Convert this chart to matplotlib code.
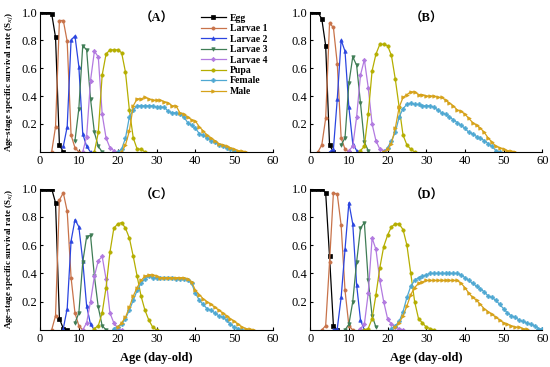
import matplotlib
matplotlib.use("Agg")
import matplotlib.pyplot as plt
import numpy as np

stages = ["Egg", "Larvae 1", "Larvae 2", "Larvae 3", "Larvae 4", "Pupa", "Female", "Male"]
panel_titles = ["（A）", "（B）", "（C）", "（D）"]
x_ticks = [0, 10, 20, 30, 40, 50, 60]
y_ticks = [0.2, 0.4, 0.6, 0.8, 1.0]

# ---- Panel A: first age of each stage curve, then daily values ----
a_start = [0, 3, 6, 9, 11, 14, 20, 21]
a_egg = [1.0, 1.0, 1.0, 0.99, 0.82, 0.05, 0.0]
a_l1 = [0.0, 0.18, 0.94, 0.94, 0.79, 0.12, 0.03, 0.0]
a_l2 = [0.04, 0.18, 0.80, 0.83, 0.61, 0.13, 0.04, 0.0]
a_l3 = [0.08, 0.31, 0.76, 0.73, 0.38, 0.14, 0.04, 0.0]
a_l4 = [0.0, 0.11, 0.51, 0.72, 0.68, 0.27, 0.10, 0.03, 0.01]
a_pupa = [0.0, 0.14, 0.55, 0.70, 0.73, 0.73, 0.73, 0.71, 0.57, 0.30, 0.10, 0.02, 0.02, 0.0]
a_female = [0.0, 0.02, 0.10, 0.25, 0.30, 0.33, 0.33, 0.33, 0.33, 0.33, 0.32, 0.32, 0.32,
            0.29, 0.28, 0.28, 0.27, 0.25, 0.21, 0.19, 0.17, 0.13, 0.12, 0.10, 0.08,
            0.07, 0.05, 0.04, 0.03, 0.02, 0.01, 0.0]
a_male = [0.0, 0.05, 0.15, 0.33, 0.38, 0.38, 0.39, 0.38, 0.37, 0.37, 0.37, 0.36, 0.35,
          0.33, 0.33, 0.28, 0.27, 0.25, 0.23, 0.22, 0.18, 0.15, 0.12, 0.10, 0.08,
          0.06, 0.05, 0.04, 0.03, 0.02, 0.01, 0.005, 0.0]

# ---- Panel B ----
b_start = [0, 2, 5, 8, 10, 13, 19, 19]
b_egg = [1.0, 1.0, 1.0, 0.95, 0.76, 0.05, 0.0]
b_l1 = [0.0, 0.05, 0.24, 0.92, 0.89, 0.63, 0.10, 0.02, 0.0]
b_l2 = [0.0, 0.02, 0.38, 0.80, 0.72, 0.32, 0.06, 0.01, 0.0]
b_l3 = [0.05, 0.10, 0.49, 0.68, 0.62, 0.35, 0.07, 0.01]
b_l4 = [0.01, 0.04, 0.25, 0.55, 0.66, 0.46, 0.20, 0.08, 0.02, 0.01]
b_pupa = [0.01, 0.04, 0.27, 0.58, 0.70, 0.77, 0.77, 0.76, 0.69, 0.52, 0.32, 0.12, 0.05, 0.02, 0.0]
b_female = [0.0, 0.03, 0.08, 0.14, 0.25, 0.31, 0.34, 0.35, 0.34, 0.34, 0.33, 0.33, 0.33,
            0.32, 0.30, 0.28, 0.27, 0.25, 0.23, 0.21, 0.19, 0.17, 0.14, 0.13, 0.11,
            0.10, 0.08, 0.06, 0.04, 0.01, 0.0]
b_male = [0.0, 0.02, 0.06, 0.17, 0.32, 0.39, 0.41, 0.43, 0.43, 0.41, 0.41, 0.40, 0.40,
          0.40, 0.39, 0.39, 0.37, 0.35, 0.33, 0.30, 0.29, 0.27, 0.24, 0.21, 0.19,
          0.17, 0.14, 0.10, 0.07, 0.04, 0.03, 0.02, 0.01, 0.005, 0.0]

# ---- Panel C ----
c_start = [0, 3, 6, 9, 11, 14, 19, 20]
c_egg = [1.0, 1.0, 1.0, 1.0, 0.90, 0.08, 0.01, 0.0]
c_l1 = [0.0, 0.10, 0.92, 0.97, 0.84, 0.37, 0.12, 0.03, 0.0]
c_l2 = [0.01, 0.15, 0.63, 0.78, 0.73, 0.49, 0.17, 0.04, 0.0]
c_l3 = [0.05, 0.12, 0.48, 0.66, 0.67, 0.38, 0.16, 0.03, 0.0]
c_l4 = [0.0, 0.05, 0.20, 0.38, 0.49, 0.52, 0.36, 0.12, 0.05, 0.01, 0.0]
c_pupa = [0.01, 0.03, 0.12, 0.30, 0.55, 0.72, 0.75, 0.76, 0.72, 0.65, 0.52, 0.38, 0.24,
          0.14, 0.07, 0.02, 0.0]
c_female = [0.01, 0.02, 0.04, 0.08, 0.14, 0.21, 0.28, 0.33, 0.36, 0.38, 0.37, 0.37, 0.37,
            0.37, 0.37, 0.37, 0.36, 0.36, 0.36, 0.35, 0.33, 0.26, 0.21, 0.18, 0.15,
            0.14, 0.12, 0.10, 0.09, 0.07, 0.04, 0.02, 0.01, 0.0]
c_male = [0.02, 0.05, 0.09, 0.16, 0.24, 0.30, 0.35, 0.38, 0.39, 0.39, 0.38, 0.37, 0.37,
          0.37, 0.37, 0.37, 0.37, 0.37, 0.36, 0.34, 0.28, 0.25, 0.22, 0.20, 0.18,
          0.16, 0.14, 0.12, 0.10, 0.08, 0.06, 0.04, 0.02, 0.01, 0.005, 0.0]

# ---- Panel D ----
d_start = [0, 3, 6, 9, 13, 14, 21, 22]
d_egg = [1.0, 1.0, 1.0, 1.0, 0.97, 0.52, 0.03, 0.0]
d_l1 = [0.0, 0.03, 0.48, 0.97, 0.96, 0.74, 0.28, 0.03, 0.0]
d_l2 = [0.0, 0.01, 0.23, 0.57, 0.90, 0.75, 0.32, 0.07, 0.0]
d_l3 = [0.0, 0.04, 0.20, 0.48, 0.72, 0.76, 0.35, 0.10, 0.02]
d_l4 = [0.01, 0.04, 0.26, 0.65, 0.57, 0.35, 0.20, 0.08, 0.04, 0.02, 0.01, 0.0]
d_pupa = [0.0, 0.01, 0.08, 0.25, 0.44, 0.59, 0.67, 0.73, 0.75, 0.75, 0.71, 0.60, 0.40,
          0.20, 0.08, 0.05, 0.02, 0.01, 0.0]
d_female = [0.01, 0.03, 0.06, 0.13, 0.23, 0.31, 0.35, 0.37, 0.38, 0.39, 0.40, 0.40, 0.40,
            0.40, 0.40, 0.40, 0.40, 0.40, 0.39, 0.37, 0.35, 0.33, 0.31, 0.29, 0.27,
            0.24, 0.23, 0.21, 0.18, 0.15, 0.12, 0.10, 0.09, 0.07, 0.06, 0.05, 0.04,
            0.03, 0.01, 0.005]
d_male = [0.02, 0.05, 0.10, 0.17, 0.25, 0.30, 0.33, 0.34, 0.35, 0.35, 0.35, 0.35, 0.35,
          0.35, 0.35, 0.35, 0.35, 0.33, 0.30, 0.26, 0.23, 0.21, 0.18, 0.15, 0.13,
          0.11, 0.09, 0.07, 0.05, 0.04, 0.03, 0.02, 0.02, 0.01, 0.005]

panels = [
    (a_start, [a_egg, a_l1, a_l2, a_l3, a_l4, a_pupa, a_female, a_male]),
    (b_start, [b_egg, b_l1, b_l2, b_l3, b_l4, b_pupa, b_female, b_male]),
    (c_start, [c_egg, c_l1, c_l2, c_l3, c_l4, c_pupa, c_female, c_male]),
    (d_start, [d_egg, d_l1, d_l2, d_l3, d_l4, d_pupa, d_female, d_male]),
]

colors = ["#000000", "#c8734a", "#2b45e0", "#3f7d55", "#b27ae0", "#b5ae00", "#4fa8d2", "#d6a21a"]
markers = ["s", "o", "^", "v", "D", "o", "P", ">"]
msizes = [2.4, 2.3, 2.5, 2.5, 2.2, 2.4, 2.8, 2.5]

serif = ["Liberation Serif", "Noto Sans CJK SC"]
plt.rcParams["font.family"] = serif

fig = plt.figure(figsize=(5.5, 3.67), dpi=100)
pos = [
    [0.0727, 0.586, 0.424, 0.381],
    [0.564, 0.586, 0.422, 0.381],
    [0.0727, 0.101, 0.424, 0.385],
    [0.564, 0.101, 0.422, 0.385],
]

for i, (starts, series) in enumerate(panels):
    ax = fig.add_axes(pos[i])
    for j, vals in enumerate(series):
        x = np.arange(starts[j], starts[j] + len(vals))
        ax.plot(x, vals, color=colors[j], marker=markers[j], markersize=msizes[j],
                linewidth=0.9, label=stages[j], markeredgewidth=0.5)
    ax.set_xlim(0, 60)
    ax.set_ylim(0, 1.0)
    ax.set_xticks(x_ticks)
    ax.set_yticks(y_ticks)
    ax.set_yticklabels([f"{v:.1f}" for v in y_ticks])
    ax.spines["top"].set_visible(False)
    ax.spines["right"].set_visible(False)
    ax.tick_params(direction="in", length=2.5, labelsize=9, width=0.8, pad=2)
    ax.text(0.5, 0.95, panel_titles[i], transform=ax.transAxes, ha="center", va="center",
            fontsize=9, fontweight="bold", family=serif)
    if i % 2 == 0:
        ax.set_ylabel("Age-stage specific survival rate (S$_{xj}$)", fontsize=6.5,
                      fontweight="bold", labelpad=4)
    if i >= 2:
        ax.set_xlabel("Age (day-old)", fontsize=9, fontweight="bold", labelpad=5)
    if i == 0:
        ax.legend(loc="upper right", bbox_to_anchor=(1.0, 1.03), frameon=False,
                  prop={"family": serif, "size": 7, "weight": "bold"},
                  handlelength=2.6, handletextpad=0.4, labelspacing=0.15, borderaxespad=0.2)

fig.savefig("out.png", dpi=100)
